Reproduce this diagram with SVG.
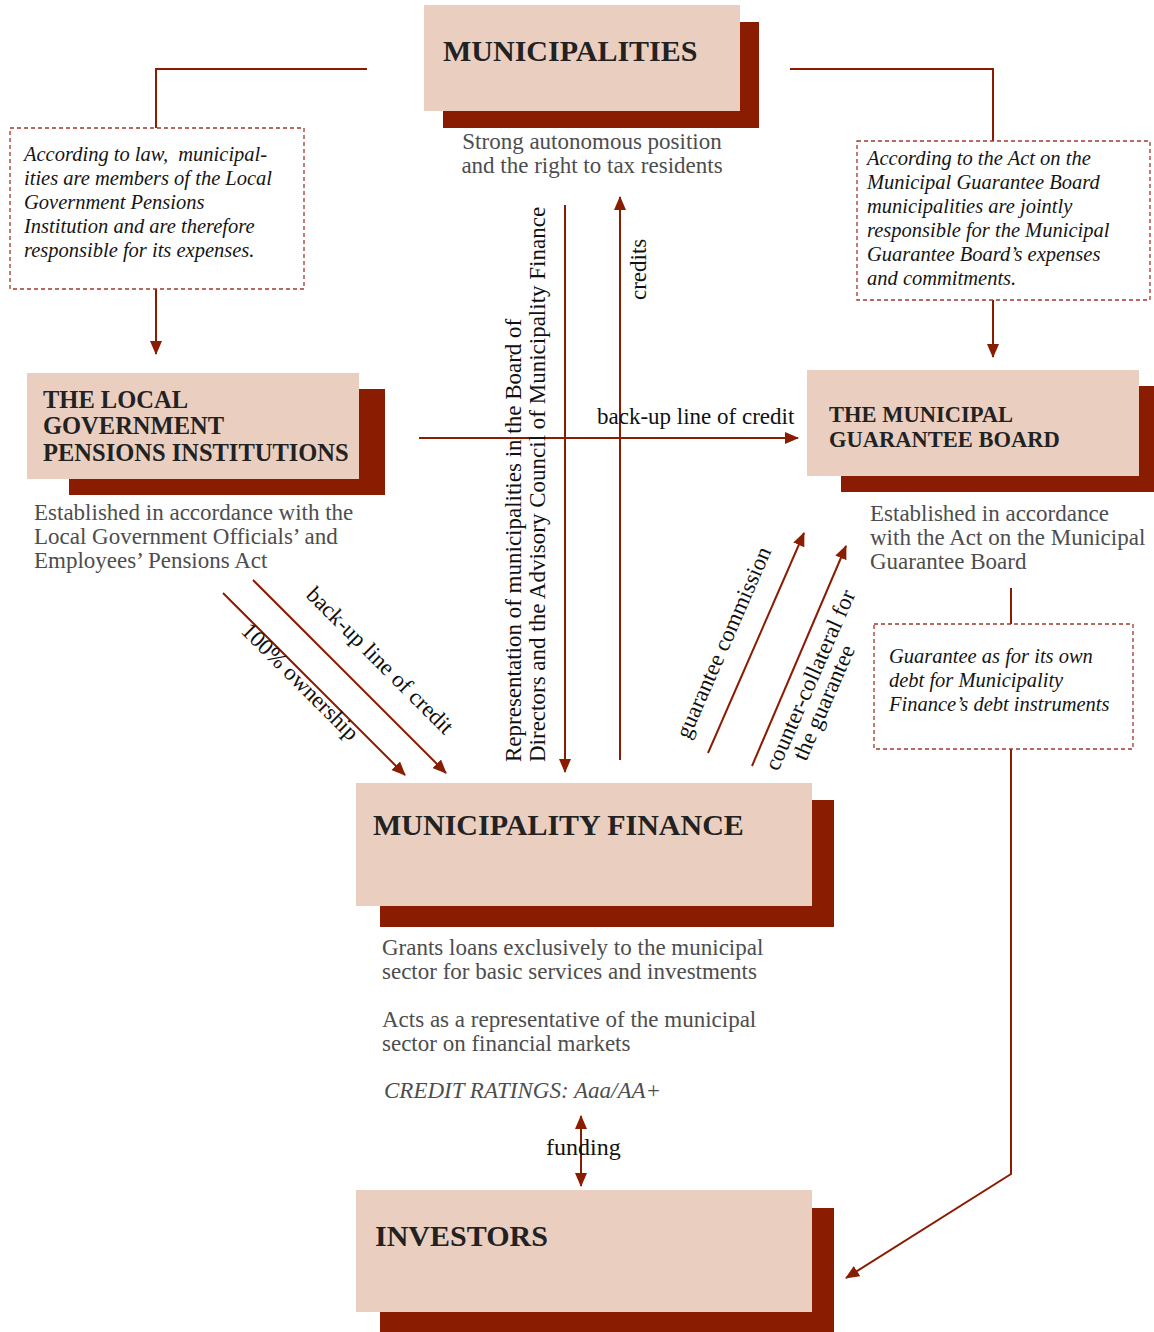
<svg xmlns="http://www.w3.org/2000/svg" width="1154" height="1332" viewBox="0 0 1154 1332">
<style>
.light{fill:#EACFC1}
.dark{fill:#8A1C02}
.title{font-family:"Liberation Serif",serif;font-weight:bold;fill:#222;}
.cap{font-family:"Liberation Serif",serif;fill:#4d4d4d;font-size:23px}
.note{font-family:"Liberation Serif",serif;font-style:italic;fill:#151515;font-size:20.5px}
.lbl{font-family:"Liberation Serif",serif;fill:#111;font-size:23px}
.dash{fill:#fff;stroke:#A3382A;stroke-width:1.3;stroke-dasharray:4 3}
.ln{fill:none;stroke:#8A1C02;stroke-width:2}
</style>
<defs>
<marker id="ah" markerWidth="14" markerHeight="12" refX="13" refY="6" orient="auto" markerUnits="userSpaceOnUse">
<path d="M0,0 L14,6 L0,12 Z" fill="#8A1C02"/>
</marker>
<marker id="ahs" markerWidth="14" markerHeight="12" refX="1" refY="6" orient="auto" markerUnits="userSpaceOnUse">
<path d="M14,0 L0,6 L14,12 Z" fill="#8A1C02"/>
</marker>
</defs>

<g id="connectors">
<path class="ln" d="M367,69 H156 V128"/>
<path class="ln" d="M156,289 V354" marker-end="url(#ah)"/>
<path class="ln" d="M790,69 H993 V141"/>
<path class="ln" d="M993,300 V357" marker-end="url(#ah)"/>
<path class="ln" d="M419,438 H798" marker-end="url(#ah)"/>
<path class="ln" d="M565,205 V772" marker-end="url(#ah)"/>
<path class="ln" d="M620,760 V197" marker-end="url(#ah)"/>
<path class="ln" d="M223,593 L405,775" marker-end="url(#ah)"/>
<path class="ln" d="M253,580 L446,773" marker-end="url(#ah)"/>
<path class="ln" d="M708,753 L804,533" marker-end="url(#ah)"/>
<path class="ln" d="M752,766 L846,546" marker-end="url(#ah)"/>
<path class="ln" d="M1011,588 V624"/>
<path class="ln" d="M1011,749 V1174 L846,1278" marker-end="url(#ah)"/>
<path class="ln" d="M581,1116 V1186" marker-start="url(#ahs)" marker-end="url(#ah)"/>
<text class="lbl" x="597" y="424">back-up line of credit</text>
<text class="lbl" transform="translate(521,762) rotate(-90)">Representation of municipalities in the Board of</text>
<text class="lbl" transform="translate(545,762) rotate(-90)">Directors and the Advisory Council of Municipality Finance</text>
<text class="lbl" transform="translate(646,300) rotate(-90)">credits</text>
<text class="lbl" transform="translate(305,596) rotate(45)">back-up line of credit</text>
<text class="lbl" transform="translate(240,632) rotate(45)">100% ownership</text>
<text class="lbl" transform="translate(689,740) rotate(-66.4)">guarantee commission</text>
<text class="lbl" transform="translate(778,772) rotate(-66.4)">counter-collateral for</text>
<text class="lbl" transform="translate(806,762) rotate(-66.4)">the guarantee</text>
<text class="lbl" x="546" y="1155" style="font-size:24px">funding</text>
</g>

<g id="municipalities">
<rect class="dark" x="443" y="22" width="316" height="106"/>
<rect class="light" x="424" y="5" width="316" height="106"/>
<text class="title" x="443" y="61" style="font-size:30px">MUNICIPALITIES</text>
<text class="cap" x="592" y="149" text-anchor="middle">Strong autonomous position</text>
<text class="cap" x="592" y="173" text-anchor="middle">and the right to tax residents</text>
</g>

<g id="note-pensions">
<rect class="dash" x="10" y="128" width="294" height="161"/>
<text class="note" x="24" y="161" xml:space="preserve">According to law,  municipal-</text>
<text class="note" x="24" y="185">ities are members of the Local</text>
<text class="note" x="24" y="209">Government Pensions</text>
<text class="note" x="24" y="233">Institution and are therefore</text>
<text class="note" x="24" y="257">responsible for its expenses.</text>
</g>

<g id="note-guarantee">
<rect class="dash" x="857" y="141" width="293" height="159"/>
<text class="note" x="867" y="165">According to the Act on the</text>
<text class="note" x="867" y="189">Municipal Guarantee Board</text>
<text class="note" x="867" y="213">municipalities are jointly</text>
<text class="note" x="867" y="237">responsible for the Municipal</text>
<text class="note" x="867" y="261">Guarantee Board’s expenses</text>
<text class="note" x="867" y="285">and commitments.</text>
</g>

<g id="pensions">
<rect class="dark" x="69" y="389" width="316" height="106"/>
<rect class="light" x="27" y="373" width="332" height="106"/>
<text class="title" x="43" y="408" style="font-size:24.5px">THE LOCAL</text>
<text class="title" x="43" y="434" style="font-size:24.5px">GOVERNMENT</text>
<text class="title" x="43" y="461" style="font-size:24.5px">PENSIONS INSTITUTIONS</text>
<text class="cap" x="34" y="520">Established in accordance with the</text>
<text class="cap" x="34" y="544">Local Government Officials’ and</text>
<text class="cap" x="34" y="568">Employees’ Pensions Act</text>
</g>

<g id="guarantee-board">
<rect class="dark" x="841" y="386" width="313" height="106"/>
<rect class="light" x="807" y="370" width="332" height="106"/>
<text class="title" x="829" y="422" style="font-size:22.5px">THE MUNICIPAL</text>
<text class="title" x="829" y="447" style="font-size:22.5px">GUARANTEE BOARD</text>
<text class="cap" x="870" y="521">Established in accordance</text>
<text class="cap" x="870" y="545">with the Act on the Municipal</text>
<text class="cap" x="870" y="569">Guarantee Board</text>
</g>

<g id="note-own-debt">
<rect class="dash" x="874" y="624" width="259" height="125"/>
<text class="note" x="889" y="663">Guarantee as for its own</text>
<text class="note" x="889" y="687">debt for Municipality</text>
<text class="note" x="889" y="711">Finance’s debt instruments</text>
</g>

<g id="municipality-finance">
<rect class="dark" x="380" y="800" width="454" height="127"/>
<rect class="light" x="356" y="783" width="456" height="123"/>
<text class="title" x="373" y="835" style="font-size:30px">MUNICIPALITY FINANCE</text>
<text class="cap" x="382" y="955">Grants loans exclusively to the municipal</text>
<text class="cap" x="382" y="979">sector for basic services and investments</text>
<text class="cap" x="382" y="1027">Acts as a representative of the municipal</text>
<text class="cap" x="382" y="1051">sector on financial markets</text>
<text class="cap" x="384" y="1098" style="font-style:italic">CREDIT RATINGS: Aaa/AA+</text>
</g>

<g id="investors">
<rect class="dark" x="380" y="1208" width="454" height="124"/>
<rect class="light" x="356" y="1190" width="456" height="122"/>
<text class="title" x="375" y="1246" style="font-size:30px">INVESTORS</text>
</g>
</svg>
